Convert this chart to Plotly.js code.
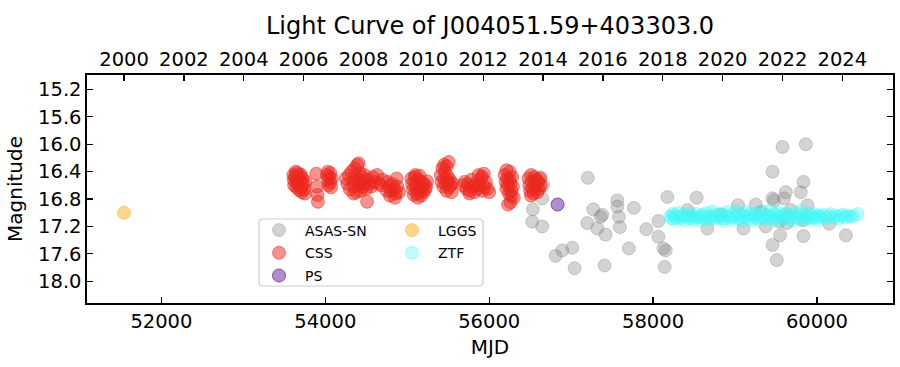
<!DOCTYPE html>
<html>
<head>
<meta charset="utf-8">
<script src="https://cdn.plot.ly/plotly-3.0.1.min.js"></script>
<style>html,body{margin:0;padding:0;background:#fff;}#chart{width:900px;height:367px;}</style>
</head>
<body>
<div id="chart"></div>
<script>
// ---------- data ----------
const asasMjd = [56627,56660,56647,56533,56525,56647,56810,56892,57014,57042,57204,57270,57197,57319,57360,57380,57421,57564,57564,57583,57595,57408,57705,57766,57918,58065,58175,58065,58126,58154,58142,58532,58663,59037,59103,59253,59375,59457,59457,59579,59864,59836,59803,59620,59599,59550,59457,59510,59836,60353,59632,59538,59824,60149,59477,59885,58825,59313,59679,58423];
const asasMag = [16.48,16.60,16.79,16.95,17.13,17.20,17.63,17.55,17.51,17.81,16.49,16.95,17.15,17.23,17.06,17.03,17.32,16.82,16.91,17.06,17.21,17.77,17.52,16.93,17.24,17.12,16.77,17.35,17.52,17.55,17.79,16.78,17.23,16.89,17.23,16.88,17.20,16.79,16.40,16.04,16.00,16.55,16.70,16.70,16.79,17.33,17.47,17.69,17.34,17.33,17.15,17.13,17.11,17.16,16.82,16.89,17.03,16.99,16.96,16.96];

const cssMjd = [
 53610,53615,53620,53630,53640,53650,53655,53665,53670,53680,53690,53700,53710,53715,53725,53735,53745,53750,53760,53640,53700,
 53890,53900,53905,53910,
 54020,54030,54040,54050,54060,54070,54080,54030,54060,
 54250,54270,54290,54300,54320,54340,54350,54360,54370,54380,54390,54400,54410,54420,54430,54440,54450,54460,54470,54480,54500,54520,54540,54560,54580,54600,54510,54346,54407,
 54632,54651,54680,54700,54750,54760,54780,54790,54800,54820,54840,54850,54860,54870,54880,54900,
 55050,55060,55070,55080,55090,55100,55110,55120,55130,55140,55150,55160,55170,55180,55190,55200,55210,55220,55230,55240,55100,55150,
 55410,55420,55430,55440,55450,55460,55470,55480,55490,55500,55510,55520,55530,55540,55550,55450,55480,55506,
 55680,55700,55720,55740,55760,55780,55800,55820,55840,55860,55880,55900,55920,55940,55960,55980,56000,55870,55910,55760,55934,
 56190,56200,56210,56220,56230,56240,56250,56260,56270,56280,56290,56300,56260,56230,56210,56250,56270,
 56480,56490,56500,56510,56520,56530,56540,56550,56560,56570,56580,56590,56600,56610,56620,56630,56510];
const cssMag = [
 16.45,16.52,16.60,16.48,16.55,16.63,16.42,16.50,16.58,16.67,16.46,16.54,16.62,16.70,16.50,16.58,16.66,16.72,16.55,16.40,16.44,
 16.43,16.62,16.74,16.84,
 16.45,16.52,16.60,16.48,16.56,16.63,16.50,16.40,16.42,
 16.50,16.58,16.45,16.66,16.40,16.55,16.62,16.35,16.47,16.70,16.30,16.52,16.60,16.42,16.68,16.55,16.48,16.62,16.58,16.45,16.65,16.52,16.58,16.62,16.48,16.55,16.84,16.72,16.28,
 16.45,16.57,16.60,16.52,16.68,16.55,16.62,16.75,16.68,16.58,16.65,16.78,16.72,16.50,16.62,16.70,
 16.50,16.58,16.66,16.74,16.48,16.56,16.64,16.72,16.78,16.52,16.60,16.68,16.75,16.55,16.63,16.70,16.58,16.66,16.62,16.54,16.45,16.46,
 16.45,16.55,16.35,16.62,16.50,16.40,16.58,16.68,16.47,16.55,16.63,16.52,16.60,16.70,16.57,16.30,16.32,16.26,
 16.60,16.55,16.65,16.58,16.68,16.52,16.62,16.70,16.57,16.65,16.60,16.50,16.68,16.62,16.55,16.65,16.70,16.45,16.47,16.72,16.43,
 16.45,16.55,16.65,16.50,16.60,16.72,16.40,16.58,16.68,16.48,16.62,16.78,16.85,16.88,16.38,16.52,16.75,
 16.50,16.60,16.68,16.45,16.55,16.65,16.72,16.48,16.58,16.62,16.52,16.70,16.55,16.65,16.50,16.60,16.75];

const psMjd = [56835];
const psMag = [16.88];

const lggsMjd = [51544];
const lggsMag = [17.00];

const ztfMjd = [58210,58225,58240,58255,58270,58290,58310,58330,58350,58370,58390,58410,58430,58450,58470,58490,58510,58530,58550,58570,58590,58610,58630,58650,58670,58690,58710,58730,58750,58770,58790,58810,58830,58850,58870,58890,58910,58930,58950,58970,58990,59010,59030,59050,59070,59090,59110,59130,59150,59170,59190,59210,59230,59250,59270,59290,59310,59330,59350,59370,59390,59410,59430,59450,59470,59490,59510,59530,59550,59570,59590,59610,59630,59650,59670,59690,59710,59730,59750,59770,59790,59810,59830,59850,59870,59890,59910,59930,59950,59970,59990,60010,60030,60050,60080,60110,60140,60170,60200,60230,60260,60290,60320,60350,60380,60410,60440,60496];
const ztfMag = [17.05,17.08,17.02,17.10,17.04,17.07,17.00,17.09,17.05,17.03,17.11,17.06,17.01,17.08,17.04,17.10,17.06,17.02,17.07,17.12,17.05,17.03,17.08,17.00,17.06,17.10,17.04,16.98,17.07,17.03,17.09,17.05,17.01,17.08,17.12,17.04,16.99,17.06,17.10,17.03,17.07,16.97,17.05,17.09,17.02,17.12,17.06,16.99,17.04,17.08,17.01,17.11,17.05,17.02,17.07,17.10,17.04,16.98,17.06,17.09,17.03,17.07,16.96,17.05,17.11,17.02,17.08,16.99,17.06,17.10,17.03,17.07,17.01,17.05,17.09,17.04,17.12,17.06,17.00,17.08,17.03,16.97,17.05,17.10,17.04,17.07,17.01,17.09,17.05,17.02,17.07,17.11,17.04,17.06,17.03,17.08,17.05,17.02,17.07,17.04,17.09,17.05,17.03,17.07,17.04,17.06,17.05,17.02];

const mjdTicks = [52000,54000,56000,58000,60000];
const yearTicks = [2000,2002,2004,2006,2008,2010,2012,2014,2016,2018,2020,2022,2024];
const magTicks = [15.2,15.6,16.0,16.4,16.8,17.2,17.6,18.0];

// ---------- styling ----------
const FONT = 'DejaVu Sans, Arial, sans-serif';
const mjdRange = [51092, 60928];
const mjdToYear = m => 2000 + (m - 51544) / 365.25;

function mk(x, y, name, fill, line, legend) {
  return {
    type: 'scatter', mode: 'markers', x: x, y: y, name: name,
    legend: legend, legendgroup: name,
    marker: {size: 13, color: fill, line: {color: line, width: 1}},
    hoverinfo: 'skip'
  };
}

const traces = [
  mk(asasMjd, asasMag, 'ASAS-SN', 'rgba(128,128,128,0.35)', 'rgba(128,128,128,0.35)', 'legend'),
  mk(cssMjd, cssMag, 'CSS', 'rgba(235,40,30,0.5)', 'rgba(235,40,30,0.5)', 'legend'),
  mk(psMjd, psMag, 'PS', 'rgba(148,103,189,0.75)', 'rgba(110,60,150,0.85)', 'legend'),
  mk(lggsMjd, lggsMag, 'LGGS', 'rgba(255,165,0,0.45)', 'rgba(255,165,0,0.45)', 'legend2'),
  mk(ztfMjd, ztfMag, 'ZTF', 'rgba(70,245,245,0.35)', 'rgba(70,245,245,0.35)', 'legend2'),
  {type: 'scatter', mode: 'markers', x: yearTicks, y: yearTicks.map(() => null), xaxis: 'x2',
   showlegend: false, hoverinfo: 'skip', marker: {opacity: 0}}
];

const tickFont = {family: FONT, size: 19.5, color: '#000'};
const axisCommon = {
  showgrid: false, zeroline: false, showline: true, linecolor: '#000', linewidth: 1.6,
  ticks: 'inside', ticklen: 6, tickwidth: 1.2, tickcolor: '#000', tickfont: tickFont
};

const plotL = 87, plotR = 893, plotT = 75, plotB = 303;
const pw = plotR - plotL, ph = plotB - plotT;
const fx = p => (p - plotL) / pw;
const fy = p => (plotB - p) / ph;

// rounded legend frame
const bx0 = fx(259), bx1 = fx(483), by0 = fy(286), by1 = fy(219);
const rx = 4 / pw, ry = 4 / ph;
const framePath = `M ${bx0 + rx},${by0} L ${bx1 - rx},${by0} Q ${bx1},${by0} ${bx1},${by0 + ry} L ${bx1},${by1 - ry} Q ${bx1},${by1} ${bx1 - rx},${by1} L ${bx0 + rx},${by1} Q ${bx0},${by1} ${bx0},${by1 - ry} L ${bx0},${by0 + ry} Q ${bx0},${by0} ${bx0 + rx},${by0} Z`;

const legendCommon = {
  bgcolor: 'rgba(0,0,0,0)', borderwidth: 0, font: {family: FONT, size: 14, color: '#000'},
  xanchor: 'left', yanchor: 'top', traceorder: 'grouped', tracegroupgap: 1.5, itemwidth: 42
};

const layout = {
  width: 900, height: 367,
  margin: {l: plotL, r: 900 - plotR, t: plotT, b: 367 - plotB, pad: 0},
  paper_bgcolor: '#fff', plot_bgcolor: '#fff',
  font: {family: FONT, color: '#000'},
  title: {text: 'Light Curve of J004051.59+403303.0', font: {family: FONT, size: 24, color: '#000'},
          x: 0.5, xref: 'paper', y: 0.93, yref: 'container', yanchor: 'middle'},
  xaxis: Object.assign({}, axisCommon, {
    range: mjdRange, tickmode: 'array', tickvals: mjdTicks, ticktext: mjdTicks.map(String),
    mirror: false, title: {text: 'MJD', font: {family: FONT, size: 20, color: '#000'}, standoff: 8}
  }),
  xaxis2: Object.assign({}, axisCommon, {
    overlaying: 'x', side: 'top', anchor: 'y',
    range: mjdRange.map(mjdToYear), tickmode: 'array', tickvals: yearTicks, ticktext: yearTicks.map(String)
  }),
  yaxis: Object.assign({}, axisCommon, {
    range: [18.317, 14.99], tickmode: 'array', tickvals: magTicks, ticktext: magTicks.map(v => v.toFixed(1)),
    mirror: 'ticks', title: {text: 'Magnitude', font: {family: FONT, size: 20, color: '#000'}, standoff: 10}
  }),
  showlegend: true,
  legend: Object.assign({}, legendCommon, {x: fx(253), y: fy(214.5)}),
  legend2: Object.assign({}, legendCommon, {x: fx(386), y: fy(214.5)}),
  shapes: [{type: 'path', xref: 'paper', yref: 'paper', path: framePath,
            line: {color: 'rgba(200,200,200,0.9)', width: 1.2}, fillcolor: 'rgba(255,255,255,0.8)', layer: 'above'}]
};

Plotly.newPlot('chart', traces, layout, {staticPlot: true, displayModeBar: false});
</script>
</body>
</html>
